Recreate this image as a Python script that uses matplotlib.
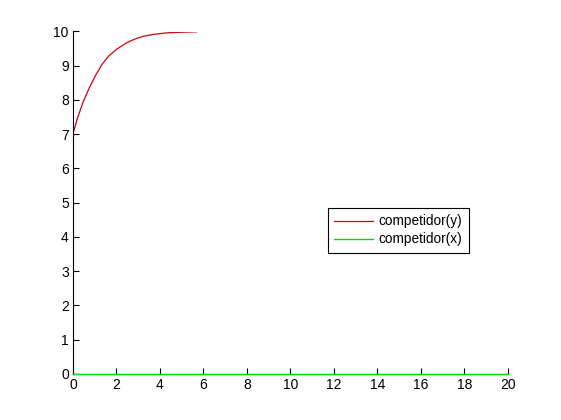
import numpy as np
import matplotlib
matplotlib.use('Agg')
import matplotlib.pyplot as plt

plt.rcParams['font.family'] = ['Liberation Sans', 'DejaVu Sans']

# values
t_y = [0, 0.2, 0.45, 0.75, 1.06, 1.35, 1.67, 2.05, 2.47, 2.85, 3.23, 3.75, 4.3, 5.0, 5.69]
comp_y = [7.0, 7.45, 7.91, 8.35, 8.74, 9.05, 9.30, 9.50, 9.67, 9.78, 9.86, 9.92, 9.96, 9.98, 9.99]
t_x = [0, 20]
comp_x = [0, 0]

fig = plt.figure(figsize=(5.61, 4.2), dpi=100)
ax = fig.add_axes([0.13, 0.11, 0.775, 0.815])

ax.plot(t_y, comp_y, color='#d00010', lw=0.9, label='competidor(y)')
ax.plot(t_x, comp_x, color='#00e000', lw=1.0, label='competidor(x)', clip_on=False, zorder=5)

ax.set_xlim(0, 20)
ax.set_ylim(0, 10)
ax.set_xticks(np.arange(0, 21, 2))
ax.set_yticks(np.arange(0, 11, 1))
ax.spines['top'].set_visible(False)
ax.spines['right'].set_visible(False)
for s in ['left', 'bottom']:
    ax.spines[s].set_linewidth(0.8)
ax.tick_params(direction='in', length=4, width=0.8, labelsize=10, pad=3)

leg = ax.legend(loc='center', bbox_to_anchor=(0.748, 0.419), fontsize=9.8,
                fancybox=False, edgecolor='black', framealpha=1,
                handlelength=2.9, borderpad=0.45, labelspacing=0.3, handletextpad=0.4)
leg.get_frame().set_linewidth(0.8)

fig.savefig('out.png', dpi=100)
